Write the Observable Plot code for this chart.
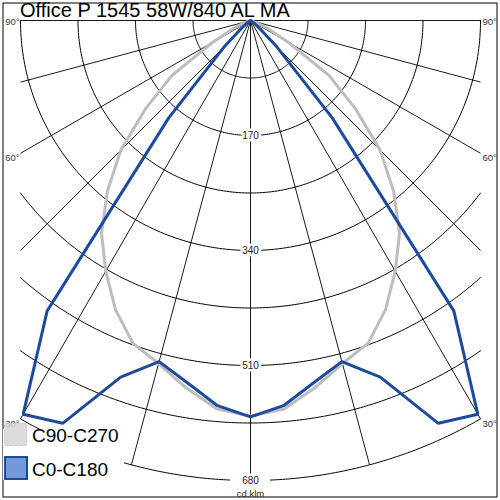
<!DOCTYPE html>
<html><head><meta charset="utf-8">
<script src="https://cdn.jsdelivr.net/npm/d3@7"></script>
<script src="https://cdn.jsdelivr.net/npm/@observablehq/plot@0.6"></script>
<style>
body{margin:0;background:#fff;font-family:"Liberation Sans",Arial,sans-serif;}
#wrap{position:relative;width:500px;height:500px;overflow:hidden;}
#chart svg{display:block;}
#title{position:absolute;left:20px;top:0px;font-size:20px;line-height:20px;color:#000;white-space:nowrap;}
#legbg{position:absolute;left:3px;top:429px;width:121px;height:51px;background:#fff;}
.sw{position:absolute;left:4px;width:23px;height:23px;box-sizing:border-box;}
.lt{position:absolute;left:32px;font-size:19px;line-height:19px;color:#000;white-space:nowrap;}
</style></head><body>
<div id="wrap"><div id="chart"></div><div id="title"></div><div id="legbg"></div><div id="legend"></div></div>
<script>
const title = "Office P 1545 58W/840 AL MA";
const angles   = [0, 5, 10, 15, 20, 25, 30, 35, 40, 45, 50, 55, 60, 65, 70, 75, 80, 85, 90];
const c0c180   = [586, 571, 543, 522, 561, 657, 672, 524, 188, 55, 15, 5, 0, 0, 0, 0, 0, 0, 0];
const c90c270  = [585, 576, 551, 525, 508, 472, 428, 384, 329, 271, 202, 142, 65, 28, 10, 3, 0, 0, 0];
const seriesNames = ["C90-C270", "C0-C180"];
const seriesColors = ["#bdbdbd", "#1c4b9b"];
const swatchFill = ["#d6d6d6", "#7499d8"];
const ringValues = [85, 170, 255, 340, 425, 510, 595, 680];
const ringLabels = [170, 340, 510, 680];
const spokeAngles = [-90, -75, -60, -45, -30, -15, 0, 15, 30, 45, 60, 75, 90];
const angleLabels = [90, 60, 30];
const unit = "cd.klm";

const HALF = 340, RMAX = 680;
const rad = d => d * Math.PI / 180;

function polarRows(name, values) {
  const rows = [];
  for (let i = angles.length - 1; i >= 0; i--) rows.push({series: name, a: -angles[i], v: values[i]});
  for (let i = 1; i < angles.length; i++) rows.push({series: name, a: angles[i], v: values[i]});
  return rows;
}
const gray = polarRows(seriesNames[0], c90c270);
const blue = polarRows(seriesNames[1], c0c180);

// grid rings (clipped analytically at the side edges)
const ringPts = [];
for (const r of ringValues) {
  const tmax = r <= HALF ? 90 : Math.asin(HALF / r) * 180 / Math.PI;
  const n = 180;
  for (let k = 0; k <= n; k++) {
    const t = -tmax + (2 * tmax) * k / n;
    ringPts.push({r, x: r * Math.sin(rad(t)), y: r * Math.cos(rad(t))});
  }
}
const spokeLen = a => Math.min(RMAX, Math.abs(Math.sin(rad(a))) < 1e-9 ? RMAX : HALF / Math.abs(Math.sin(rad(a))));
const lblRows = [];
for (const a of angleLabels) { lblRows.push({a: -a, side: "L", t: a + "°"}); lblRows.push({a: a, side: "R", t: a + "°"}); }
const lx = d => (d.side === "L" ? -HALF : HALF);
const ly = d => spokeLen(d.a) * Math.cos(rad(d.a));

const txtFont = "Liberation Sans, Arial, sans-serif";
const px = (v) => v; // identity helper
const chart = Plot.plot({
  width: 500, height: 500,
  marginTop: 20, marginBottom: 20, marginLeft: 20, marginRight: 20,
  x: {domain: [-HALF, HALF], range: [20, 480], axis: null},
  y: {domain: [0, RMAX], range: [20, 480], axis: null},
  style: {fontFamily: txtFont, background: "white"},
  marks: [
    Plot.frame({stroke: "#000", strokeWidth: 1, insetLeft: -17.5, insetTop: -17.5, insetRight: -16.5, insetBottom: -16.5}),
    Plot.line(ringPts, {x: "x", y: "y", z: "r", stroke: "#000", strokeWidth: 1}),
    Plot.link(spokeAngles, {x1: () => 0, y1: () => 0,
      x2: a => spokeLen(a) * Math.sin(rad(a)), y2: a => spokeLen(a) * Math.cos(rad(a)),
      stroke: "#000", strokeWidth: 0.9}),
    Plot.text(lblRows.filter(d => Math.abs(d.a) === 90), {x: lx, y: ly, text: "t",
      textAnchor: "end", dx: -1, dy: 1, fontSize: 9.5, fill: "#333",
      filter: d => d.side === "L"}),
    Plot.text(lblRows.filter(d => Math.abs(d.a) === 90 && d.side === "R"), {x: lx, y: ly, text: "t",
      textAnchor: "start", dx: 2, dy: 1, fontSize: 9.5, fill: "#333"}),
    Plot.text(lblRows.filter(d => Math.abs(d.a) !== 90 && d.side === "L"), {x: lx, y: ly, text: "t",
      textAnchor: "end", dx: -1, dy: 5, fontSize: 9.5, fill: "#333"}),
    Plot.text(lblRows.filter(d => Math.abs(d.a) !== 90 && d.side === "R"), {x: lx, y: ly, text: "t",
      textAnchor: "start", dx: 2, dy: 5, fontSize: 9.5, fill: "#333"}),
    Plot.line(gray, {x: d => d.v * Math.sin(rad(d.a)), y: d => d.v * Math.cos(rad(d.a)),
      stroke: seriesColors[0], strokeWidth: 3, strokeLinejoin: "round"}),
    Plot.line(blue, {x: d => d.v * Math.sin(rad(d.a)), y: d => d.v * Math.cos(rad(d.a)),
      stroke: seriesColors[1], strokeWidth: 3, strokeLinejoin: "miter"}),
    Plot.rect([RMAX], {x1: () => 0, x2: () => 0, y1: d => d, y2: d => d,
      insetLeft: -20, insetRight: -20, insetTop: -6, insetBottom: -6, fill: "white"}),
    Plot.text(ringLabels, {x: () => 0, y: d => d, text: d => String(d), fill: "#222",
      stroke: "white", strokeWidth: 5, paintOrder: "stroke", fontSize: 10}),
    Plot.text([unit], {x: () => 0, y: () => RMAX, text: d => d, dy: 13, fill: "#222", fontSize: 9.5})
  ]
});
document.getElementById("chart").appendChild(chart);

document.getElementById("title").textContent = title;
const leg = document.getElementById("legend");
const tops = [423, 456];
seriesNames.forEach((n, i) => {
  const s = document.createElement("div");
  s.className = "sw";
  s.style.top = tops[i] + "px";
  s.style.background = swatchFill[i];
  if (i === 0) { s.style.border = "1px dashed #c4c4c4"; s.style.opacity = "0.85"; s.style.borderRadius = "2px"; }
  else { s.style.border = "2px solid " + seriesColors[1]; s.style.width = "24px"; s.style.height = "24px"; }
  leg.appendChild(s);
  const t = document.createElement("div");
  t.className = "lt";
  t.style.top = (i === 0 ? 426 : 460) + "px";
  t.textContent = n;
  leg.appendChild(t);
});
</script>
</body></html>
